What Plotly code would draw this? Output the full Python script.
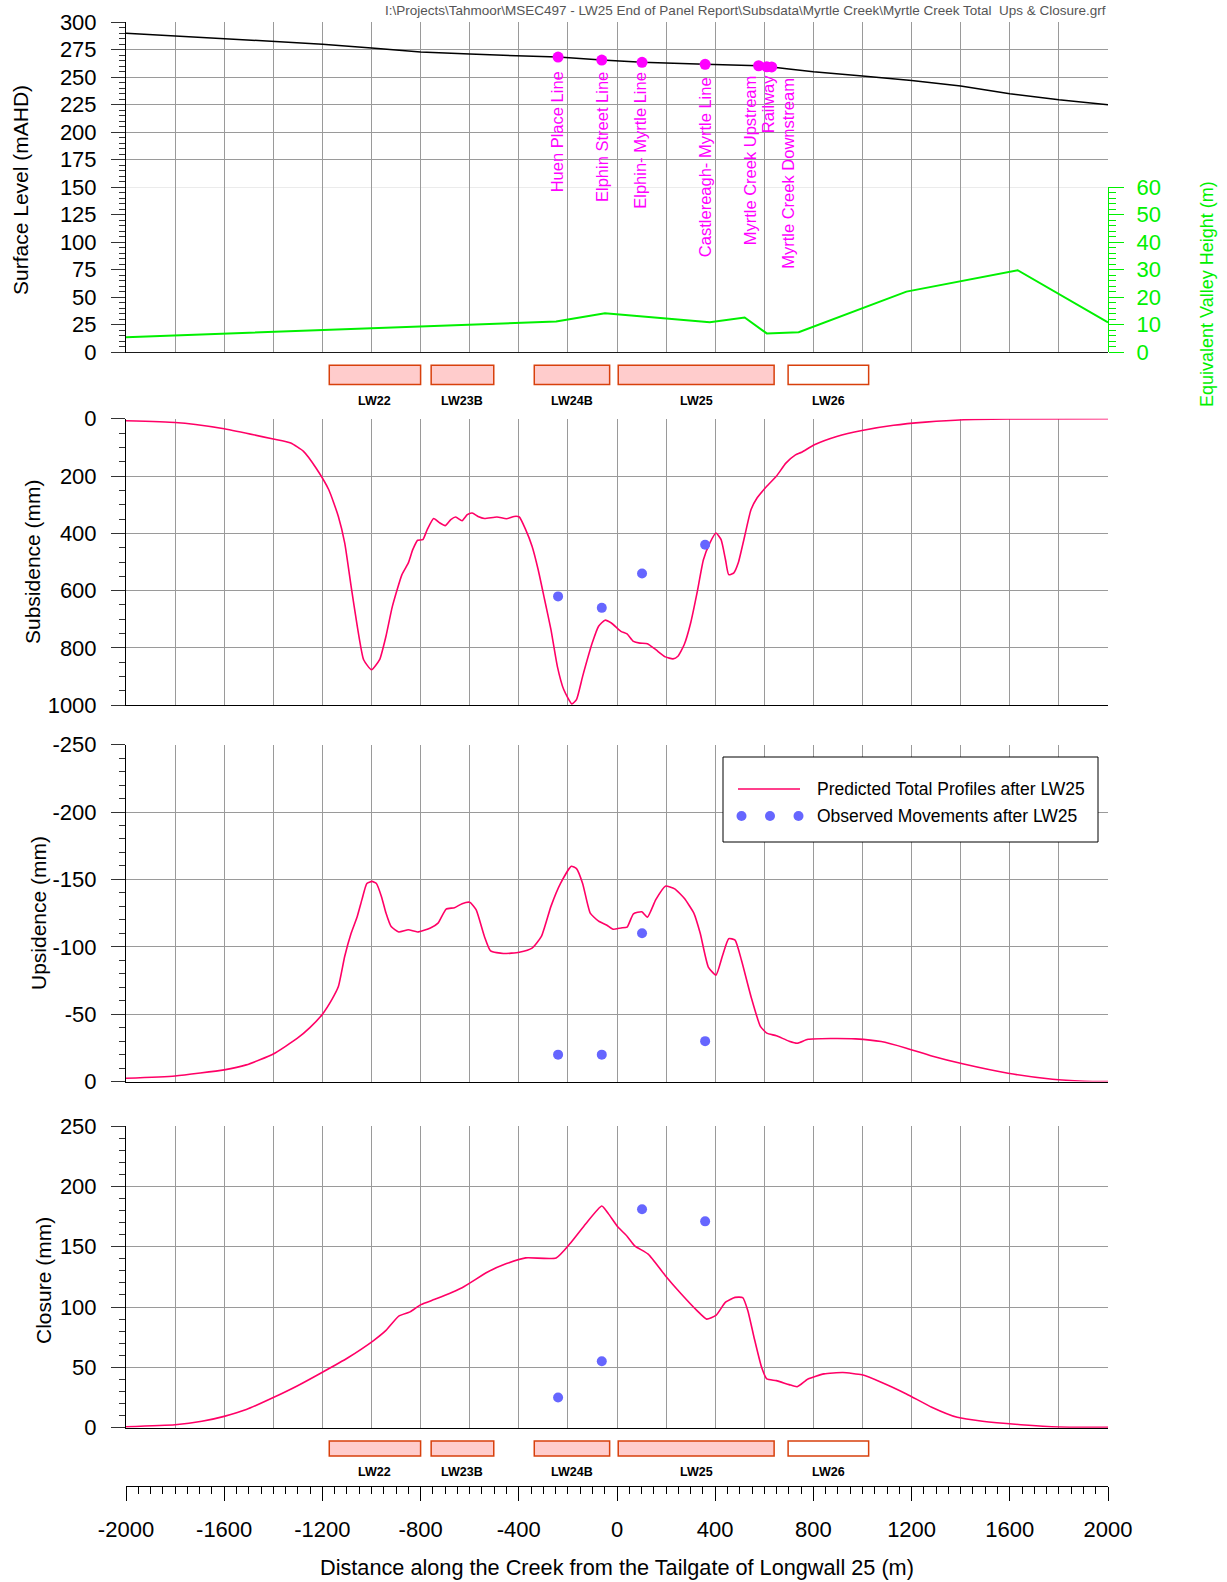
import plotly.graph_objects as go

W, H = 1227, 1582
def px(x): return x / W
def py(y): return 1 - y / H

# ---------------- data ----------------
surface_x = [-2000, -1800, -1600, -1400, -1200, -1000, -800, -600, -400, -240, -62, 102, 359, 577, 610, 630, 700, 800, 1000, 1200, 1400, 1600, 1800, 2000]
surface_y = [290, 287.5, 285, 283, 280, 276.5, 273, 271, 269.5, 268.3, 265.6, 263.5, 261.7, 260.4, 259.5, 259.3, 257.5, 255, 251, 247, 242, 235, 229.5, 225]

valley_x = [-2000, -248, -49, 378, 520, 610, 740, 1179, 1632, 2000]
valley_h = [5.4, 11.1, 14.1, 10.9, 12.6, 6.8, 7.2, 22, 29.8, 10.8]

site_names = ["Huen Place Line", "Elphin Street Line", "Elphin- Myrtle Line", "Castlereagh- Myrtle Line",
              "Myrtle Creek Upstream", "Railway", "Myrtle Creek Downstream"]
site_x = [-240, -62, 102, 359, 577, 610, 630]
site_level = [268.3, 265.6, 263.5, 261.7, 260.4, 259.5, 259.3]

sub_x = [-2000, -1800, -1717, -1600, -1400, -1329, -1277, -1226, -1174, -1135, -1109, -1083, -1058, -1032, -1000,
         -967, -941, -915, -876, -850, -832, -812, -791, -773, -747, -721, -700, -677, -657, -631, -610, -590, -566,
         -540, -489, -450, -419, -398, -372, -346, -321, -295, -269, -243, -217, -184, -165, -140, -101, -75, -49,
         -23, 16, 41, 67, 93, 124, 158, 197, 228, 248, 274, 300, 326, 352, 378, 403, 424, 442, 455, 476, 494, 520,
         546, 571, 610, 649, 688, 727, 752, 804, 895, 998, 1127, 1256, 1411, 1593, 2000]
sub_y = [7, 13, 20, 35, 71, 85, 114, 172, 248, 341, 434, 585, 724, 841, 876,
         841, 759, 655, 544, 503, 457, 424, 422, 387, 348, 364, 373, 352, 343, 356, 335, 329, 341,
         348, 343, 349, 341, 343, 387, 445, 527, 631, 736, 864, 945, 995, 980, 899, 783, 724, 703,
         713, 742, 751, 777, 783, 785, 806, 831, 838, 829, 788, 713, 608, 492, 434, 399, 422, 492, 544, 538, 503, 410,
         317, 276, 236, 201, 155, 126, 117, 91, 62, 41, 23, 12, 3.5, 1, 0]

ups_x = [-2000, -1800, -1600, -1510, -1400, -1303, -1251, -1200, -1161, -1135, -1109, -1083, -1058, -1039, -1019,
         -998, -980, -959, -941, -920, -889, -850, -812, -760, -729, -696, -662, -631, -600, -574, -540, -515, -463,
         -398, -346, -308, -269, -230, -186, -165, -140, -109, -75, -41, -16, 16, 41, 67, 101, 124, 158, 197, 235,
         274, 313, 339, 372, 403, 429, 455, 481, 507, 546, 584, 610, 649, 701, 734, 778, 869, 972, 1076, 1179, 1282,
         1412, 1593, 1774, 1903, 2000]
ups_y = [-2.5, -4.2, -8.7, -12.4, -20.5, -32, -40, -50, -61, -70.5, -93, -110, -122.5, -135, -147,
         -148.5, -147, -137, -125, -115, -111, -112.6, -111, -114, -117.6, -128, -129, -132, -133, -127.5, -107.7, -97, -95,
         -96, -99, -107.7, -130, -147, -159.7, -158, -147, -125, -119, -116, -113, -114, -114.6, -124.5, -126, -122, -135, -145, -143,
         -136, -125, -110, -85, -79, -93, -106, -105, -90, -63, -41, -36, -34, -30, -28.5, -31.4, -32, -31.7, -29.7, -24.8, -19,
         -13, -6.2, -1.7, -0.3, 0]

clo_x = [-2000, -1800, -1691, -1600, -1510, -1400, -1303, -1200, -1096, -993, -941, -889, -843, -799, -734, -631,
         -527, -450, -372, -248, -191, -127, -62, -36, 3, 41, 72, 127, 197, 261, 326, 365, 403, 442, 481, 512, 533,
         558, 589, 610, 649, 701, 734, 778, 843, 920, 998, 1076, 1179, 1282, 1386, 1489, 1645, 1800, 2000]
clo_y = [0.8, 2.5, 5.3, 9.4, 15, 25, 34.6, 46, 58, 72, 80.6, 92.5, 96, 102, 107, 116,
         129, 136, 140.7, 140.7, 152.6, 169, 183.7, 177.6, 166.5, 158.7, 150.7, 143.8, 126, 111, 97, 90, 93, 104, 108, 107.8, 97,
         75, 50, 40.4, 39, 35.7, 34, 40.4, 44.6, 45.7, 43.8, 37.7, 28, 17, 8.6, 5.3, 2.5, 0.6, 0.3]

obs_x = [-240, -62, 102, 359]
obs_sub = [620, 660, 540, 440]
obs_ups = [-20, -20, -110, -30]
obs_clo = [25, 55, 181, 171]

lw_names = ["LW22", "LW23B", "LW24B", "LW25", "LW26"]
lw_start = [-1172, -757, -337, 5, 697]
lw_end = [-800, -502, -30, 640, 1025]
lw_extracted = [True, True, True, True, False]

ruler_ticks = list(range(-2000, 2001, 200))
ruler_labels = [str(v) if v % 400 == 0 else "" for v in ruler_ticks]
ups_ticks = [-250, -200, -150, -100, -50, 0]
ups_labels = [str(v) for v in ups_ticks]

# ---------------- style ----------------
FONT = "Liberation Sans, Arial, sans-serif"
RED = "#FF0066"
BLUE = "#6666FF"
GREEN = "#00F000"
MAG = "#FF00FF"
GRID = "#9A9A9A"
TICKC = "#333333"
X0, X1 = 126, 1108
xdom = [px(X0), px(X1)]

fig = go.Figure()
fig.add_trace(go.Scatter(x=surface_x, y=surface_y, xaxis="x", yaxis="y", mode="lines",
                         line=dict(color="black", width=1.5), hoverinfo="skip"))
fig.add_trace(go.Scatter(x=valley_x, y=valley_h, xaxis="x", yaxis="y2", mode="lines",
                         line=dict(color=GREEN, width=2), hoverinfo="skip"))
fig.add_trace(go.Scatter(x=site_x, y=site_level, xaxis="x", yaxis="y", mode="markers",
                         marker=dict(color=MAG, size=11), hoverinfo="skip"))

for xa, ya, xx, yy, oy in [("x2", "y3", sub_x, sub_y, obs_sub), ("x3", "y4", ups_x, ups_y, obs_ups),
                           ("x4", "y5", clo_x, clo_y, obs_clo)]:
    fig.add_trace(go.Scatter(x=xx, y=yy, xaxis=xa, yaxis=ya, mode="lines",
                             line=dict(color=RED, width=1.6, shape="spline", smoothing=0.5), hoverinfo="skip"))
    fig.add_trace(go.Scatter(x=obs_x, y=oy, xaxis=xa, yaxis=ya, mode="markers",
                             marker=dict(color=BLUE, size=10), hoverinfo="skip"))

fig.add_trace(go.Scatter(x=[], y=[], xaxis="x5", yaxis="y6", mode="lines", hoverinfo="skip"))


def xgrid(anchor):
    return dict(domain=xdom, range=[-2000, 2000], anchor=anchor, showgrid=True, gridcolor=GRID, gridwidth=1,
                tickmode="linear", dtick=200, tick0=0, showticklabels=False, ticks="", showline=True,
                linecolor="black", linewidth=1, zeroline=False, fixedrange=True, automargin=False)


def yax(domain, rng, dtick, mdtick, anchor):
    return dict(domain=domain, range=rng, anchor=anchor, tickmode="linear", dtick=dtick, tick0=0, showgrid=True,
                gridcolor=GRID, gridwidth=1, ticks="outside", ticklen=14, tickcolor=TICKC, tickwidth=1,
                minor=dict(ticks="outside", ticklen=6, dtick=mdtick, tick0=0, tickcolor=TICKC, showgrid=False),
                showline=True, linecolor="black", linewidth=1, zeroline=False, automargin=False,
                tickfont=dict(size=22, color="black", family=FONT), ticklabelstandoff=10, fixedrange=True)


ups_axis = yax([py(1081.6), py(744.6)], [0, -250], 50, 10, "x3")
ups_axis.update(tickmode="array", tickvals=ups_ticks, ticktext=ups_labels,
                minor=dict(ticks="outside", ticklen=6, tickmode="array", tickvals=list(range(-250, 1, 10)),
                           tickcolor=TICKC, showgrid=False))

fig.update_layout(
    template="none",
    width=W, height=H, margin=dict(l=0, r=0, t=0, b=0, pad=0, autoexpand=False),
    paper_bgcolor="white", plot_bgcolor="white", showlegend=False,
    font=dict(family=FONT, color="black"),
    xaxis=xgrid("y"),
    xaxis2=xgrid("y3"),
    xaxis3=xgrid("y4"),
    xaxis4=xgrid("y5"),
    xaxis5=dict(domain=xdom, range=[-2000, 2000], anchor="y6", showgrid=False, tickmode="array",
                tickvals=ruler_ticks, ticktext=ruler_labels, ticks="outside", ticklen=14, tickcolor="black",
                minor=dict(ticks="outside", ticklen=7, tickmode="array", tickvals=list(range(-2000, 2001, 50)),
                           tickcolor="black", showgrid=False),
                showline=True, linecolor="black", linewidth=1, zeroline=False, automargin=False,
                tickfont=dict(size=22, color="black", family=FONT), ticklabelstandoff=10, fixedrange=True),
    yaxis=yax([py(352.1), py(22.2)], [0, 300], 25, 5, "x"),
    yaxis2=dict(domain=[py(352.1), py(187.2)], range=[0, 60], anchor="x", side="right",
                tickmode="linear", dtick=10, tick0=0, showgrid=False, ticks="outside", ticklen=15,
                tickcolor=GREEN, minor=dict(ticks="outside", ticklen=7, dtick=2, tick0=0, tickcolor=GREEN, showgrid=False),
                showline=True, linecolor=GREEN, linewidth=1, zeroline=False, automargin=False,
                tickfont=dict(size=22, color=GREEN, family=FONT), ticklabelstandoff=8, fixedrange=True),
    yaxis3=yax([py(705.3), py(418.7)], [1000, 0], 200, 50, "x2"),
    yaxis4=ups_axis,
    yaxis5=yax([py(1427.7), py(1126)], [0, 250], 50, 10, "x4"),
    yaxis6=dict(domain=[py(1486), py(1484)], range=[0, 1], anchor="x5", visible=False, fixedrange=True,
                automargin=False, showgrid=False, zeroline=False),
)

shapes = []
annotations = []

# longwall panels (top and bottom bands)
for (top, bot, lab_y) in [(365.3, 384.4, 400.6), (1441, 1456, 1472)]:
    for name, a, b, done in zip(lw_names, lw_start, lw_end, lw_extracted):
        shapes.append(dict(type="rect", xref="x", yref="paper", x0=a, x1=b, y0=py(bot), y1=py(top),
                           line=dict(color="#D8400C", width=1.5), fillcolor="#FFCCCC" if done else "white",
                           layer="above"))
        annotations.append(dict(x=(a + b) / 2, y=py(lab_y), xref="x", yref="paper", text="<b>%s</b>" % name,
                                showarrow=False, font=dict(size=12.5, color="black", family=FONT),
                                xanchor="center", yanchor="middle"))

# site labels
label_x = [-241, -64, 96, 359, 542, 618, 699]
label_top = [70, 70.7, 70.7, 76, 74.3, 73, 76.7]
for name, lx, lt in zip(site_names, label_x, label_top):
    annotations.append(dict(x=lx, y=py(lt), xref="x", yref="paper", text=name, textangle=-90, showarrow=False,
                            font=dict(size=16.5, color=MAG, family=FONT), xanchor="center", yanchor="top",
                            borderpad=0))

# axis titles
for text, x, y, col, fs in [("Surface Level (mAHD)", 20, 190, "black", 21), ("Subsidence (mm)", 32, 562, "black", 21),
                            ("Upsidence (mm)", 38, 913, "black", 21), ("Closure (mm)", 43, 1281, "black", 21),
                            ("Equivalent Valley Height (m)", 1207, 294, GREEN, 18)]:
    annotations.append(dict(x=px(x), y=py(y), xref="paper", yref="paper", text=text, textangle=-90,
                            showarrow=False, font=dict(size=fs, color=col, family=FONT),
                            xanchor="center", yanchor="middle"))
annotations.append(dict(x=px(617), y=py(1567), xref="paper", yref="paper",
                        text="Distance along the Creek from the Tailgate of Longwall 25 (m)", showarrow=False,
                        font=dict(size=21.7, color="black", family=FONT), xanchor="center", yanchor="middle"))
annotations.append(dict(x=px(1108), y=py(11), xref="paper", yref="paper",
                        text=r"I:\Projects\Tahmoor\MSEC497 - LW25 End of Panel Report\Subsdata\Myrtle Creek\Myrtle Creek Total  Ups & Closure.grf",
                        showarrow=False, font=dict(size=13.5, color="#555555", family=FONT),
                        xanchor="right", yanchor="middle"))

# legend (manual)
shapes.append(dict(type="rect", xref="paper", yref="paper", x0=px(723), x1=px(1098), y0=py(842), y1=py(757),
                   line=dict(color="black", width=1), fillcolor="white", layer="above"))
shapes.append(dict(type="line", xref="paper", yref="paper", x0=px(738), x1=px(800), y0=py(789), y1=py(789),
                   line=dict(color=RED, width=1.6), layer="above"))
for dx in [741.5, 770, 798.5]:
    shapes.append(dict(type="circle", xref="paper", yref="paper", x0=px(dx - 5), x1=px(dx + 5),
                       y0=py(816 + 5), y1=py(816 - 5), line=dict(width=0), fillcolor=BLUE, layer="above"))
annotations.append(dict(x=px(815), y=py(789), xref="paper", yref="paper", text="Predicted Total Profiles after LW25",
                        showarrow=False, font=dict(size=17.5, color="black", family=FONT),
                        xanchor="left", yanchor="middle"))
annotations.append(dict(x=px(815), y=py(816), xref="paper", yref="paper", text="Observed Movements after LW25",
                        showarrow=False, font=dict(size=17.5, color="black", family=FONT),
                        xanchor="left", yanchor="middle"))

fig.update_layout(shapes=shapes, annotations=annotations)
fig.write_html("out.html")
